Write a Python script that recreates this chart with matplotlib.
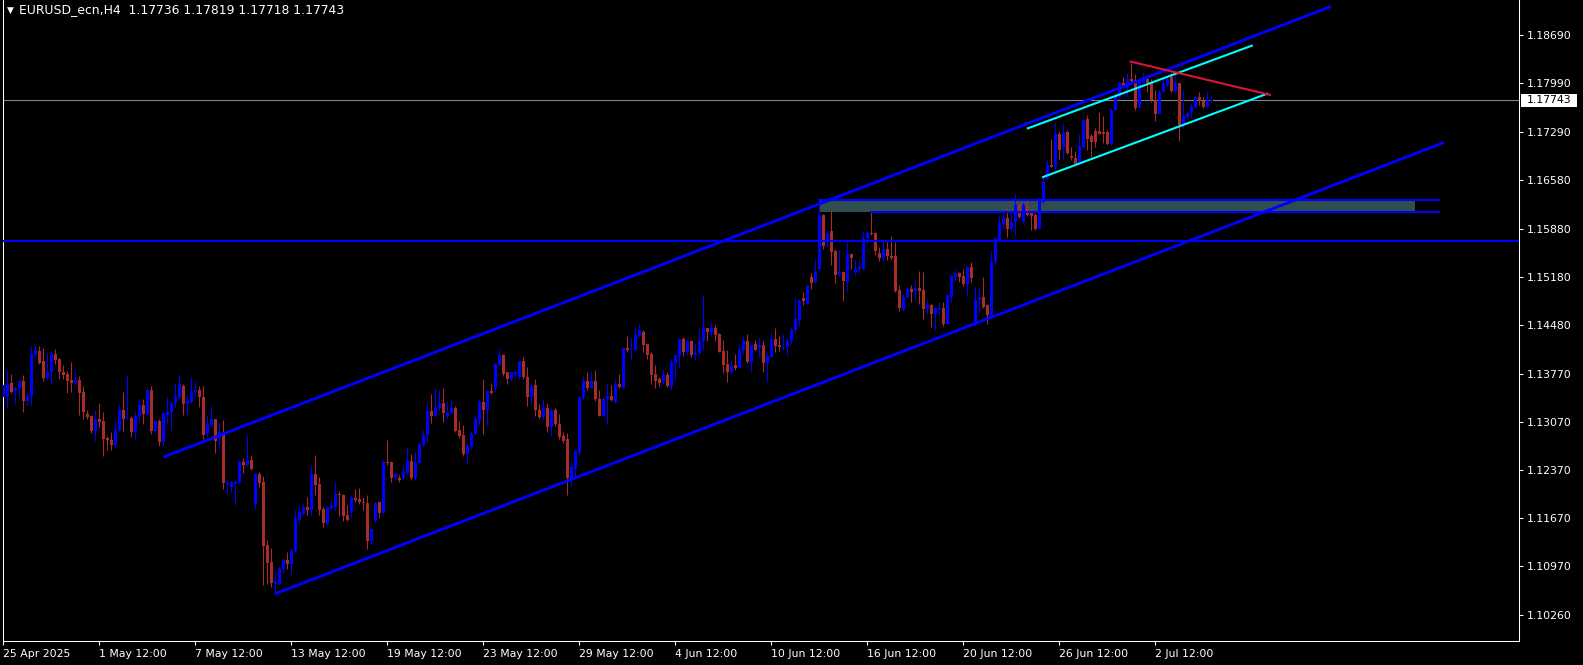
import matplotlib.pyplot as plt
import matplotlib.transforms as mtransforms
from matplotlib.patches import Rectangle

# EURUSD H4 candles, 25 Apr 2025 12:00 .. 4 Jul 2025 20:00 (one entry per bar)
opens = [
    1.1344, 1.1345, 1.1364, 1.1352, 1.1357, 1.1367, 1.1337, 1.1345, 1.1404, 1.1410,
    1.1395, 1.1371, 1.1379, 1.1406, 1.1398, 1.1379, 1.1377, 1.1368, 1.1364, 1.1368,
    1.1350, 1.1319, 1.1316, 1.1294, 1.1312, 1.1309, 1.1284, 1.1281, 1.1273, 1.1296,
    1.1325, 1.1311, 1.1313, 1.1293, 1.1315, 1.1332, 1.1319, 1.1353, 1.1294, 1.1308,
    1.1278, 1.1317, 1.1320, 1.1334, 1.1343, 1.1359, 1.1333, 1.1336, 1.1350, 1.1353,
    1.1343, 1.1289, 1.1303, 1.1311, 1.1282, 1.1291, 1.1217, 1.1213, 1.1217, 1.1219,
    1.1249, 1.1244, 1.1252, 1.1188, 1.1231, 1.1220, 1.1128, 1.1104, 1.1072, 1.1071,
    1.1093, 1.1107, 1.1101, 1.1120, 1.1165, 1.1174, 1.1183, 1.1179, 1.1231, 1.1217,
    1.1180, 1.1159, 1.1181, 1.1183, 1.1202, 1.1201, 1.1172, 1.1176, 1.1196, 1.1195,
    1.1191, 1.1189, 1.1134, 1.1163, 1.1190, 1.1175, 1.1249, 1.1249, 1.1226, 1.1225,
    1.1225, 1.1233, 1.1250, 1.1225, 1.1248, 1.1273, 1.1288, 1.1323, 1.1316, 1.1327,
    1.1335, 1.1315, 1.1320, 1.1327, 1.1295, 1.1288, 1.1261, 1.1270, 1.1289, 1.1310,
    1.1336, 1.1325, 1.1352, 1.1356, 1.1390, 1.1404, 1.1379, 1.1369, 1.1377, 1.1372,
    1.1395, 1.1373, 1.1343, 1.1361, 1.1325, 1.1314, 1.1328, 1.1299, 1.1325, 1.1304,
    1.1286, 1.1283, 1.1225, 1.1238, 1.1264, 1.1343, 1.1366, 1.1357, 1.1367, 1.1340,
    1.1316, 1.1340, 1.1345, 1.1336, 1.1362, 1.1357, 1.1414, 1.1412, 1.1412, 1.1432,
    1.1438, 1.1420, 1.1406, 1.1377, 1.1369, 1.1365, 1.1376, 1.1359, 1.1393, 1.1403,
    1.1428, 1.1409, 1.1425, 1.1404, 1.1407, 1.1424, 1.1443, 1.1436, 1.1444, 1.1435,
    1.1410, 1.1391, 1.1380, 1.1390, 1.1386, 1.1411, 1.1424, 1.1393, 1.1420, 1.1415,
    1.1419, 1.1393, 1.1402, 1.1427, 1.1419, 1.1414, 1.1416, 1.1425, 1.1440, 1.1455,
    1.1487, 1.1479, 1.1517, 1.1511, 1.1530, 1.1608, 1.1571, 1.1584, 1.1556, 1.1520,
    1.1525, 1.1511, 1.1551, 1.1525, 1.1529, 1.1530, 1.1575, 1.1582, 1.1582, 1.1553,
    1.1545, 1.1558, 1.1548, 1.1548, 1.1499, 1.1470, 1.1488, 1.1501, 1.1497, 1.1502,
    1.1499, 1.1471, 1.1477, 1.1464, 1.1471, 1.1472, 1.1450, 1.1488, 1.1518, 1.1523,
    1.1519, 1.1507, 1.1532, 1.1449, 1.1485, 1.1488, 1.1477, 1.1461, 1.1540, 1.1572,
    1.1595, 1.1603, 1.1588, 1.1597, 1.1622, 1.1597, 1.1622, 1.1611, 1.1608, 1.1588,
    1.1627, 1.1661, 1.1680, 1.1677, 1.1726, 1.1706, 1.1729, 1.1693, 1.1691, 1.1683,
    1.1707, 1.1747, 1.1722, 1.1730, 1.1730, 1.1729, 1.1729, 1.1711, 1.1760, 1.1780,
    1.1799, 1.1793, 1.1805, 1.1804, 1.1764, 1.1800, 1.1805, 1.1799, 1.1775, 1.1755,
    1.1787, 1.1797, 1.1808, 1.1787, 1.1799, 1.1739, 1.1750, 1.1758, 1.1765, 1.1779,
    1.1774, 1.1765, 1.17736,
]
highs = [
    1.1363, 1.1383, 1.1377, 1.1359, 1.1368, 1.1375, 1.1351, 1.1417, 1.1420, 1.1417,
    1.1414, 1.1407, 1.1408, 1.1413, 1.1400, 1.1390, 1.1381, 1.1394, 1.1383, 1.1374,
    1.1359, 1.1324, 1.1317, 1.1324, 1.1335, 1.1321, 1.1287, 1.1293, 1.1309, 1.1332,
    1.1350, 1.1375, 1.1316, 1.1322, 1.1340, 1.1341, 1.1357, 1.1359, 1.1310, 1.1312,
    1.1322, 1.1343, 1.1338, 1.1363, 1.1375, 1.1362, 1.1346, 1.1372, 1.1366, 1.1359,
    1.1359, 1.1315, 1.1330, 1.1312, 1.1304, 1.1310, 1.1223, 1.1221, 1.1223, 1.1252,
    1.1254, 1.1287, 1.1259, 1.1233, 1.1235, 1.1228, 1.1135, 1.1124, 1.1088, 1.1096,
    1.1109, 1.1118, 1.1123, 1.1179, 1.1186, 1.1189, 1.1198, 1.1244, 1.1259, 1.1227,
    1.1183, 1.1185, 1.1193, 1.1220, 1.1206, 1.1202, 1.1186, 1.1201, 1.1209, 1.1211,
    1.1198, 1.1201, 1.1152, 1.1191, 1.1191, 1.1252, 1.1281, 1.1251, 1.1234, 1.1230,
    1.1244, 1.1270, 1.1260, 1.1264, 1.1276, 1.1296, 1.1334, 1.1347, 1.1356, 1.1353,
    1.1356, 1.1338, 1.1339, 1.1330, 1.1309, 1.1302, 1.1277, 1.1294, 1.1317, 1.1341,
    1.1369, 1.1354, 1.1364, 1.1393, 1.1413, 1.1406, 1.1380, 1.1380, 1.1383, 1.1396,
    1.1402, 1.1387, 1.1362, 1.1369, 1.1333, 1.1340, 1.1334, 1.1327, 1.1327, 1.1318,
    1.1293, 1.1291, 1.1249, 1.1267, 1.1345, 1.1374, 1.1380, 1.1381, 1.1383, 1.1354,
    1.1343, 1.1362, 1.1361, 1.1369, 1.1377, 1.1415, 1.1432, 1.1431, 1.1445, 1.1449,
    1.1440, 1.1421, 1.1409, 1.1390, 1.1373, 1.1383, 1.1380, 1.1399, 1.1406, 1.1428,
    1.1430, 1.1426, 1.1426, 1.1420, 1.1443, 1.1491, 1.1444, 1.1453, 1.1448, 1.1437,
    1.1426, 1.1411, 1.1397, 1.1406, 1.1420, 1.1432, 1.1435, 1.1420, 1.1426, 1.1431,
    1.1424, 1.1409, 1.1437, 1.1443, 1.1432, 1.1435, 1.1430, 1.1445, 1.1487, 1.1486,
    1.1496, 1.1506, 1.1524, 1.1542, 1.1631, 1.1609, 1.1585, 1.1613, 1.1558, 1.1557,
    1.1526, 1.1568, 1.1553, 1.1543, 1.1543, 1.1584, 1.1584, 1.1613, 1.1583, 1.1562,
    1.1571, 1.1569, 1.1577, 1.1568, 1.1506, 1.1493, 1.1503, 1.1506, 1.1513, 1.1527,
    1.1525, 1.1484, 1.1478, 1.1474, 1.1482, 1.1482, 1.1493, 1.1522, 1.1529, 1.1525,
    1.1530, 1.1534, 1.1540, 1.1503, 1.1503, 1.1518, 1.1479, 1.1554, 1.1575, 1.1606,
    1.1613, 1.1620, 1.1614, 1.1639, 1.1627, 1.1625, 1.1629, 1.1617, 1.1611, 1.1633,
    1.1665, 1.1688, 1.1718, 1.1743, 1.1730, 1.1742, 1.1731, 1.1707, 1.1701, 1.1725,
    1.1748, 1.1753, 1.1725, 1.1734, 1.1758, 1.1751, 1.1731, 1.1763, 1.1785, 1.1802,
    1.1809, 1.1814, 1.1829, 1.1813, 1.1805, 1.1815, 1.1811, 1.1806, 1.1789, 1.1790,
    1.1805, 1.1811, 1.1814, 1.1812, 1.1800, 1.1789, 1.1759, 1.1771, 1.1780, 1.1786,
    1.1779, 1.1788, 1.17819,
]
lows = [
    1.1326, 1.1327, 1.1349, 1.1334, 1.1344, 1.1322, 1.1332, 1.1332, 1.1402, 1.1392,
    1.1367, 1.1370, 1.1364, 1.1392, 1.1370, 1.1369, 1.1349, 1.1350, 1.1361, 1.1317,
    1.1311, 1.1312, 1.1291, 1.1280, 1.1300, 1.1257, 1.1267, 1.1267, 1.1271, 1.1293,
    1.1294, 1.1311, 1.1285, 1.1282, 1.1309, 1.1304, 1.1317, 1.1290, 1.1290, 1.1272,
    1.1272, 1.1305, 1.1296, 1.1329, 1.1341, 1.1317, 1.1319, 1.1335, 1.1343, 1.1329,
    1.1283, 1.1286, 1.1300, 1.1262, 1.1267, 1.1210, 1.1203, 1.1205, 1.1186, 1.1218,
    1.1233, 1.1243, 1.1237, 1.1181, 1.1213, 1.1070, 1.1071, 1.1067, 1.1058, 1.1070,
    1.1087, 1.1094, 1.1086, 1.1118, 1.1159, 1.1172, 1.1172, 1.1172, 1.1201, 1.1172,
    1.1155, 1.1157, 1.1180, 1.1177, 1.1170, 1.1163, 1.1163, 1.1169, 1.1191, 1.1188,
    1.1179, 1.1122, 1.1130, 1.1162, 1.1167, 1.1173, 1.1245, 1.1220, 1.1222, 1.1220,
    1.1222, 1.1232, 1.1223, 1.1223, 1.1247, 1.1272, 1.1278, 1.1305, 1.1314, 1.1325,
    1.1307, 1.1311, 1.1318, 1.1293, 1.1284, 1.1257, 1.1248, 1.1268, 1.1288, 1.1302,
    1.1289, 1.1302, 1.1348, 1.1351, 1.1388, 1.1374, 1.1362, 1.1367, 1.1373, 1.1370,
    1.1370, 1.1330, 1.1334, 1.1316, 1.1312, 1.1312, 1.1293, 1.1286, 1.1301, 1.1283,
    1.1277, 1.1201, 1.1214, 1.1225, 1.1259, 1.1341, 1.1354, 1.1356, 1.1338, 1.1315,
    1.1315, 1.1304, 1.1338, 1.1335, 1.1357, 1.1356, 1.1409, 1.1398, 1.1411, 1.1431,
    1.1408, 1.1398, 1.1362, 1.1357, 1.1359, 1.1362, 1.1358, 1.1354, 1.1368, 1.1385,
    1.1403, 1.1404, 1.1401, 1.1397, 1.1404, 1.1412, 1.1425, 1.1432, 1.1425, 1.1408,
    1.1378, 1.1365, 1.1378, 1.1383, 1.1385, 1.1406, 1.1393, 1.1380, 1.1411, 1.1401,
    1.1380, 1.1365, 1.1401, 1.1409, 1.1410, 1.1412, 1.1405, 1.1420, 1.1436, 1.1446,
    1.1477, 1.1478, 1.1501, 1.1509, 1.1528, 1.1559, 1.1561, 1.1535, 1.1509, 1.1519,
    1.1483, 1.1496, 1.1529, 1.1521, 1.1523, 1.1530, 1.1566, 1.1579, 1.1550, 1.1541,
    1.1541, 1.1542, 1.1542, 1.1496, 1.1469, 1.1469, 1.1487, 1.1482, 1.1484, 1.1479,
    1.1456, 1.1464, 1.1445, 1.1441, 1.1462, 1.1446, 1.1449, 1.1482, 1.1512, 1.1511,
    1.1504, 1.1491, 1.1511, 1.1446, 1.1467, 1.1473, 1.1449, 1.1460, 1.1535, 1.1571,
    1.1588, 1.1576, 1.1586, 1.1577, 1.1604, 1.1596, 1.1606, 1.1586, 1.1586, 1.1587,
    1.1625, 1.1658, 1.1677, 1.1675, 1.1689, 1.1689, 1.1697, 1.1688, 1.1680, 1.1680,
    1.1705, 1.1703, 1.1692, 1.1706, 1.1725, 1.1712, 1.1709, 1.1709, 1.1759, 1.1779,
    1.1792, 1.1780, 1.1799, 1.1761, 1.1763, 1.1799, 1.1787, 1.1772, 1.1745, 1.1754,
    1.1786, 1.1795, 1.1786, 1.1786, 1.1716, 1.1734, 1.1747, 1.1750, 1.1763, 1.1768,
    1.1763, 1.1764, 1.17718,
]
closes = [
    1.1361, 1.1362, 1.1351, 1.1357, 1.1367, 1.1337, 1.1345, 1.1406, 1.1412, 1.1393,
    1.1371, 1.1380, 1.1406, 1.1397, 1.1379, 1.1375, 1.1367, 1.1364, 1.1368, 1.1349,
    1.1321, 1.1314, 1.1294, 1.1312, 1.1307, 1.1283, 1.1281, 1.1273, 1.1296, 1.1325,
    1.1311, 1.1313, 1.1293, 1.1316, 1.1332, 1.1319, 1.1353, 1.1294, 1.1308, 1.1278,
    1.1320, 1.1322, 1.1335, 1.1343, 1.1362, 1.1333, 1.1338, 1.1351, 1.1353, 1.1343,
    1.1288, 1.1304, 1.1311, 1.1280, 1.1293, 1.1218, 1.1219, 1.1220, 1.1220, 1.1249,
    1.1244, 1.1252, 1.1238, 1.1231, 1.1219, 1.1127, 1.1102, 1.1073, 1.1076, 1.1095,
    1.1107, 1.1101, 1.1121, 1.1167, 1.1176, 1.1183, 1.1179, 1.1231, 1.1215, 1.1179,
    1.1160, 1.1183, 1.1185, 1.1202, 1.1201, 1.1170, 1.1164, 1.1196, 1.1194, 1.1190,
    1.1189, 1.1134, 1.1151, 1.1189, 1.1175, 1.1249, 1.1247, 1.1226, 1.1231, 1.1222,
    1.1234, 1.1250, 1.1225, 1.1249, 1.1275, 1.1288, 1.1323, 1.1315, 1.1328, 1.1335,
    1.1320, 1.1322, 1.1327, 1.1294, 1.1286, 1.1260, 1.1272, 1.1290, 1.1311, 1.1336,
    1.1325, 1.1352, 1.1349, 1.1391, 1.1404, 1.1377, 1.1369, 1.1379, 1.1379, 1.1395,
    1.1372, 1.1343, 1.1359, 1.1325, 1.1314, 1.1328, 1.1299, 1.1325, 1.1304, 1.1285,
    1.1280, 1.1226, 1.1241, 1.1265, 1.1343, 1.1366, 1.1356, 1.1367, 1.1340, 1.1316,
    1.1340, 1.1345, 1.1339, 1.1362, 1.1358, 1.1414, 1.1412, 1.1413, 1.1433, 1.1440,
    1.1419, 1.1404, 1.1375, 1.1367, 1.1364, 1.1376, 1.1359, 1.1394, 1.1404, 1.1427,
    1.1409, 1.1425, 1.1404, 1.1407, 1.1425, 1.1443, 1.1438, 1.1444, 1.1433, 1.1409,
    1.1390, 1.1380, 1.1388, 1.1386, 1.1412, 1.1424, 1.1394, 1.1419, 1.1412, 1.1419,
    1.1393, 1.1403, 1.1427, 1.1417, 1.1416, 1.1416, 1.1425, 1.1440, 1.1456, 1.1485,
    1.1483, 1.1504, 1.1509, 1.1527, 1.1608, 1.1563, 1.1582, 1.1554, 1.1520, 1.1525,
    1.1512, 1.1551, 1.1545, 1.1530, 1.1532, 1.1575, 1.1581, 1.1580, 1.1556, 1.1545,
    1.1558, 1.1548, 1.1545, 1.1498, 1.1473, 1.1488, 1.1501, 1.1496, 1.1502, 1.1498,
    1.1471, 1.1477, 1.1464, 1.1472, 1.1472, 1.1450, 1.1491, 1.1519, 1.1523, 1.1518,
    1.1507, 1.1532, 1.1516, 1.1485, 1.1488, 1.1474, 1.1462, 1.1540, 1.1574, 1.1596,
    1.1603, 1.1588, 1.1598, 1.1622, 1.1605, 1.1622, 1.1608, 1.1606, 1.1588, 1.1631,
    1.1656, 1.1680, 1.1678, 1.1726, 1.1703, 1.1729, 1.1698, 1.1690, 1.1682, 1.1708,
    1.1746, 1.1719, 1.1714, 1.1714, 1.1726, 1.1725, 1.1711, 1.1761, 1.1781, 1.1799,
    1.1794, 1.1805, 1.1803, 1.1763, 1.1801, 1.1808, 1.1799, 1.1775, 1.1755, 1.1787,
    1.1799, 1.1806, 1.1788, 1.1799, 1.1739, 1.1752, 1.1756, 1.1766, 1.1779, 1.1774,
    1.1765, 1.1775, 1.17743,
]

date_labels = ["25 Apr 2025", "1 May 12:00", "7 May 12:00", "13 May 12:00", "19 May 12:00",
               "23 May 12:00", "29 May 12:00", "4 Jun 12:00", "10 Jun 12:00", "16 Jun 12:00",
               "20 Jun 12:00", "26 Jun 12:00", "2 Jul 12:00"]
bars_per_label = 24
price_ticks = [1.18690, 1.17990, 1.17290, 1.16580, 1.15880, 1.15180, 1.14480,
               1.13770, 1.13070, 1.12370, 1.11670, 1.10970, 1.10260]
symbol_name = "EURUSD_ecn,H4"

# drawn objects: (bar index, price) anchors
channel_upper = ([40.1, 332.0], [1.1256, 1.1911])
channel_lower = ([67.9, 360.2], [1.1057, 1.1713])
support_level = 1.1570
zone_top = 1.16296
zone_bottom = 1.16126
zone_bars = (204, 353.1, 358.9)      # start, fill end, line end
zone_bottom_start = 217
cyan_upper = ([256.2, 312.2], [1.17338, 1.18539])
cyan_lower = ([260.0, 316.0], [1.1663, 1.1784])
red_line = ([281.9, 316.75], [1.18308, 1.17824])

bull_color = "#0000FF"
bear_color = "#A82C2C"

fig = plt.figure(figsize=(15.83, 6.65), dpi=100, facecolor="black")
ax = fig.add_axes([2.5 / 1583, 24 / 665, 1516.5 / 1583, 641 / 665])
ax.set_facecolor("black")

n = len(closes)
xs = list(range(n))
colors = [bull_color if c >= o else bear_color for o, c in zip(opens, closes)]
bottoms = [min(o, c) for o, c in zip(opens, closes)]
heights = [max(abs(c - o), 0.00015) for o, c in zip(opens, closes)]

# zone rectangle sits behind the candles
ax.add_patch(Rectangle((zone_bars[0], zone_bottom), zone_bars[1] - zone_bars[0], zone_top - zone_bottom,
                       facecolor="#2F4F4F", edgecolor="none", zorder=1))

ax.vlines(xs, lows, highs, colors=colors, linewidth=0.75, zorder=2)
ax.bar(xs, heights, bottom=bottoms, width=0.75, color=colors, linewidth=0, zorder=3)

# bid line
ax.axhline(closes[-1], color="#778899", linewidth=0.75, zorder=1.5)

# trend lines
ax.plot(*channel_upper, color="#0000FF", linewidth=2.1, zorder=4, solid_capstyle="butt")
ax.plot(*channel_lower, color="#0000FF", linewidth=2.1, zorder=4, solid_capstyle="butt")
ax.axhline(support_level, color="#0000FF", linewidth=1.5, zorder=4)
ax.plot([zone_bars[0], zone_bars[2]], [zone_top, zone_top], color="#0000FF", linewidth=1.5, zorder=4)
ax.plot([zone_bottom_start, zone_bars[2]], [zone_bottom, zone_bottom], color="#0000FF", linewidth=1.5, zorder=4)
ax.plot(*cyan_upper, color="#00FFFF", linewidth=1.5, zorder=4)
ax.plot(*cyan_lower, color="#00FFFF", linewidth=1.5, zorder=4)
ax.plot(*red_line, color="#DC143C", linewidth=1.5, zorder=4)

ax.set_xlim(-0.125, 379)
ax.set_ylim(1.09887, 1.19203)

# axes frame like the terminal
for side in ["left", "bottom", "right"]:
    ax.spines[side].set_color("white")
    ax.spines[side].set_linewidth(0.75)
ax.spines["top"].set_visible(False)

ax.set_xticks([i * bars_per_label for i in range(len(date_labels))])
ax.set_xticklabels(date_labels)
for lbl in ax.get_xticklabels():
    lbl.set_ha("left")
ax.tick_params(axis="x", colors="white", labelsize=7.8, length=2.6, width=0.75, pad=3)

ax.yaxis.tick_right()
ax.set_yticks(price_ticks)
ax.set_yticklabels([f"{p:.5f}" for p in price_ticks])
ax.tick_params(axis="y", colors="white", labelsize=7.8, length=2.9, width=0.75, pad=2.7)

# current price tag on the price scale
tag_tr = mtransforms.blended_transform_factory(ax.transAxes, ax.transData)
px = 1 / 1516.5
half = 6.3 * 0.00014534
ax.add_patch(Rectangle((1 + 1.7 * px, closes[-1] - half), 56 * px, 2 * half,
                       transform=tag_tr, facecolor="white", edgecolor="none", clip_on=False, zorder=5))
ax.text(1 + 7.5 * px, closes[-1], f"{closes[-1]:.5f}", transform=tag_tr, ha="left", va="center",
        fontsize=7.8, color="black", clip_on=False, zorder=6)

# chart header: symbol then O H L C of the last bar
head_y = 1 - 10 / 665
fig.text(7 / 1583, head_y, "\u25BC", color="white", fontsize=6.5, ha="left", va="center")
fig.text(19 / 1583, head_y,
         f"{symbol_name}  {opens[-1]:.5f} {highs[-1]:.5f} {lows[-1]:.5f} {closes[-1]:.5f}",
         color="white", fontsize=8.9, ha="left", va="center")

fig.savefig("out.png", dpi=100, facecolor="black")
